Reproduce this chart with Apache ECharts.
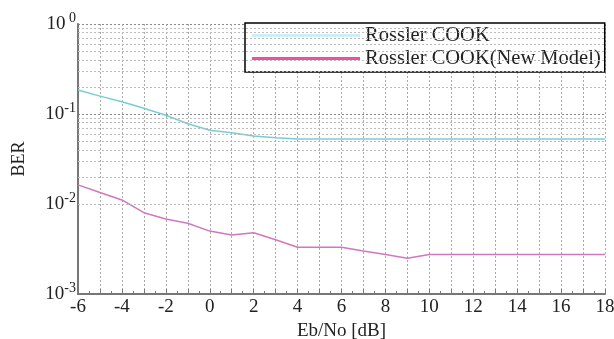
<!DOCTYPE html>
<html>
<head>
<meta charset="utf-8">
<script src="https://cdn.jsdelivr.net/npm/echarts@6/dist/echarts.min.js"></script>
<style>html,body{margin:0;padding:0;background:#fff}#c{width:614px;height:339px}</style>
</head>
<body>
<div id="c"></div>
<script>
var ebno = [-6,-5,-4,-3,-2,-1,0,1,2,3,4,5,6,7,8,9,10,11,12,13,14,15,16,17,18];
var berCook = [0.185,0.158,0.137,0.116,0.097,0.078,0.066,0.062,0.057,0.0546,0.0527,0.0527,0.0527,0.0527,0.0527,0.0527,0.0527,0.0527,0.0527,0.0527,0.0527,0.0527,0.0527,0.0527,0.0527];
var berCookNew = [0.0163,0.0134,0.0111,0.0080,0.0068,0.0061,0.0050,0.00453,0.0048,0.0040,0.0033,0.0033,0.0033,0.0030,0.00275,0.0025,0.00274,0.00274,0.00274,0.00274,0.00274,0.00274,0.00274,0.00274,0.00274];
var seriesNames = ['Rossler COOK','Rossler COOK(New Model)'];
var xTitle = 'Eb/No [dB]';
var yTitle = 'BER';

var FONT = 'Liberation Serif';
function pairs(v){ return ebno.map(function(x,i){return [x, v[i]];}); }
var minorLines = [];
[0.001,0.01,0.1].forEach(function(d){
  for (var k=2;k<=9;k++) minorLines.push({yAxis: +(k*d).toPrecision(3)});
});

var chart = echarts.init(document.getElementById('c'), null, {renderer:'canvas'});
chart.setOption({
  animation:false,
  backgroundColor:'#fff',
  grid:{left:78, right:9, top:24, bottom:45, containLabel:false, outerBoundsMode:'none'},
  legend:{
    left:245, top:23, orient:'vertical',
    itemWidth:108, itemHeight:3, itemGap:2,
    padding:[2,4,3,7],
    borderColor:'#000', borderWidth:1.5,
    backgroundColor:'#fff',
    textStyle:{fontFamily:FONT, fontSize:20.5, color:'#222', padding:[0,0,0,0], lineHeight:21},
    data:[
      {name:seriesNames[0], icon:'rect', itemStyle:{color:'#cdeef5'}},
      {name:seriesNames[1], icon:'rect', itemStyle:{color:'#f0509a'}}
    ]
  },
  xAxis:{
    type:'value', min:-6, max:18, interval:1,
    name:xTitle, nameLocation:'middle', nameGap:26,
    nameTextStyle:{fontFamily:FONT, fontSize:19, color:'#222'},
    axisLine:{show:true, onZero:false, lineStyle:{color:'#777', width:2}},
    axisTick:{show:true, inside:true, length:5, lineStyle:{color:'#777'}},
    minorTick:{show:true, splitNumber:2, length:3, lineStyle:{color:'#777'}},
    axisLabel:{fontFamily:FONT, fontSize:19, color:'#222', margin:4,
      formatter:function(v){return (v%2===0)?String(v):'';}},
    splitLine:{show:true, lineStyle:{color:'#aaa', type:[2,2], width:1}}
  },
  yAxis:{
    type:'log', logBase:10, min:0.001, max:1,
    name:yTitle, nameLocation:'middle', nameGap:50,
    nameTextStyle:{fontFamily:FONT, fontSize:18, color:'#222'},
    axisLine:{show:true, onZero:false, lineStyle:{color:'#777', width:2}},
    axisTick:{show:false},
    axisLabel:{margin:2, fontFamily:FONT, color:'#222',
      formatter:function(v){
        var e = Math.round(Math.log10(v));
        return e===0 ? '{b|10}{s| 0}' : '{b|10}{s|' + e + '}';
      },
      rich:{
        b:{fontFamily:FONT, fontSize:19, color:'#222', lineHeight:20},
        s:{fontFamily:FONT, fontSize:14, color:'#222', padding:[0,0,11,0], lineHeight:20}
      }
    },
    splitLine:{show:true, lineStyle:{color:'#888', type:[2,2], width:1}}
  },
  series:[
    {name:seriesNames[0], type:'line', data:pairs(berCook), symbol:'none',
     lineStyle:{color:'#78cdd5', width:1.5}, itemStyle:{color:'#78cdd5'},
     markLine:{silent:true, symbol:'none', label:{show:false},
       lineStyle:{color:'#bbb', type:[2,2], width:1}, data:minorLines}},
    {name:seriesNames[1], type:'line', data:pairs(berCookNew), symbol:'none',
     lineStyle:{color:'#cf78c0', width:1.5}, itemStyle:{color:'#cf78c0'}}
  ]
});
</script>
</body>
</html>
